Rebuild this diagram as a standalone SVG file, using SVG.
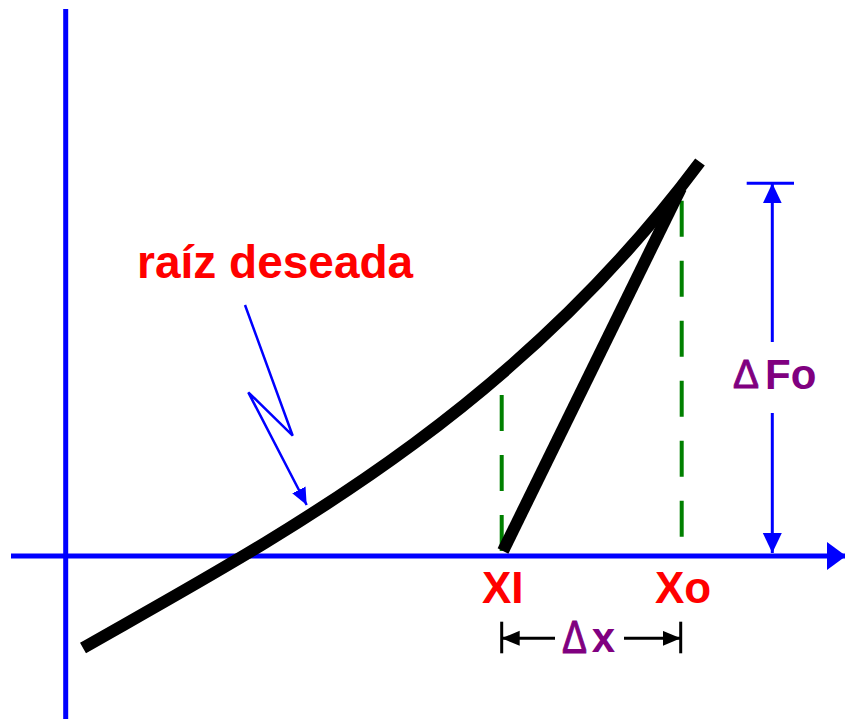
<svg xmlns="http://www.w3.org/2000/svg" width="845" height="719" viewBox="0 0 845 719">
<style>
.axis{stroke:#0000FF;stroke-width:5;fill:none}
.blue{stroke:#0000FF;stroke-width:3;fill:none}
.blk{stroke:#000;stroke-width:3;fill:none}
.thick{stroke:#000;stroke-width:12;fill:none;stroke-linecap:butt}
.dash{stroke:#008000;stroke-width:4;fill:none;stroke-dasharray:36 24}
.lbl{font-family:"Liberation Sans",Arial,sans-serif;font-weight:bold}
.red{fill:#FF0000}
.pur{fill:#800080}
.delta{font-family:"Liberation Sans",Arial,sans-serif;fill:#800080;stroke:#800080;stroke-width:1}
</style>
<defs>
<marker id="axisArrow" markerUnits="userSpaceOnUse" markerWidth="20" markerHeight="30" refX="19" refY="14" orient="auto"><path d="M0,0 L19,14 L0,28 z" fill="#0000FF"/></marker>
<marker id="blueArrow" markerUnits="userSpaceOnUse" markerWidth="22" markerHeight="20" refX="20" refY="9.5" orient="auto"><path d="M0,0 L20,9.5 L0,19 z" fill="#0000FF"/></marker>
<marker id="zigArrow" markerUnits="userSpaceOnUse" markerWidth="19" markerHeight="16" refX="17" refY="7.5" orient="auto"><path d="M0,0 L17,7.5 L0,15 z" fill="#0000FF"/></marker>
<marker id="blackArrow" markerUnits="userSpaceOnUse" markerWidth="20" markerHeight="16" refX="18" refY="7.5" orient="auto"><path d="M0,0 L18,7.5 L0,15 z" fill="#000"/></marker>
</defs>
<g id="axes">
<line class="axis" x1="65.7" y1="9" x2="65.7" y2="719"/>
<line class="axis" x1="11" y1="556" x2="846" y2="556" marker-end="url(#axisArrow)"/>
</g>
<g id="guides">
<line class="dash" x1="501.7" y1="395" x2="501.7" y2="552"/>
<line class="dash" x1="681.7" y1="200.7" x2="681.7" y2="540"/>
</g>
<g id="curve">
<path class="thick" d="M83,648 C273,539.7 510,416.6 700,162"/>
</g>
<g id="secant">
<line class="thick" x1="503" y1="551" x2="681" y2="188"/>
</g>
<g id="connectors">
<polyline class="blue" style="stroke-width:2.5" points="245,305 292.7,435.7 248.3,392.3 306.7,505" marker-end="url(#zigArrow)"/>
<line class="blue" x1="746.7" y1="183.3" x2="794" y2="183.3"/>
<line class="blue" x1="772.3" y1="342" x2="772.3" y2="183.3" marker-end="url(#blueArrow)"/>
<line class="blue" x1="772.3" y1="413" x2="772.3" y2="553" marker-end="url(#blueArrow)"/>
<line class="blk" x1="501.7" y1="621.7" x2="501.7" y2="653.3"/>
<line class="blk" x1="680.7" y1="621.7" x2="680.7" y2="653.3"/>
<line class="blk" x1="555" y1="638.3" x2="501.7" y2="638.3" marker-end="url(#blackArrow)"/>
<line class="blk" x1="624" y1="638.3" x2="680.7" y2="638.3" marker-end="url(#blackArrow)"/>
</g>
<g id="label-raiz"><text class="lbl red" x="137" y="277.5" font-size="46">raíz deseada</text></g>
<g id="label-xi"><text class="lbl red" x="482" y="603" font-size="44">XI</text></g>
<g id="label-xo"><text class="lbl red" x="655" y="603" font-size="44">Xo</text></g>
<g id="label-dfo">
<text class="delta" x="733" y="388" font-size="40" textLength="26" lengthAdjust="spacingAndGlyphs">Δ</text>
<text class="lbl pur" x="765" y="389" font-size="42">Fo</text>
</g>
<g id="label-dx">
<text class="delta" x="562" y="652.7" font-size="46" textLength="25" lengthAdjust="spacingAndGlyphs">Δ</text>
<text class="lbl pur" x="591.7" y="652" font-size="42">x</text>
</g>
</svg>
